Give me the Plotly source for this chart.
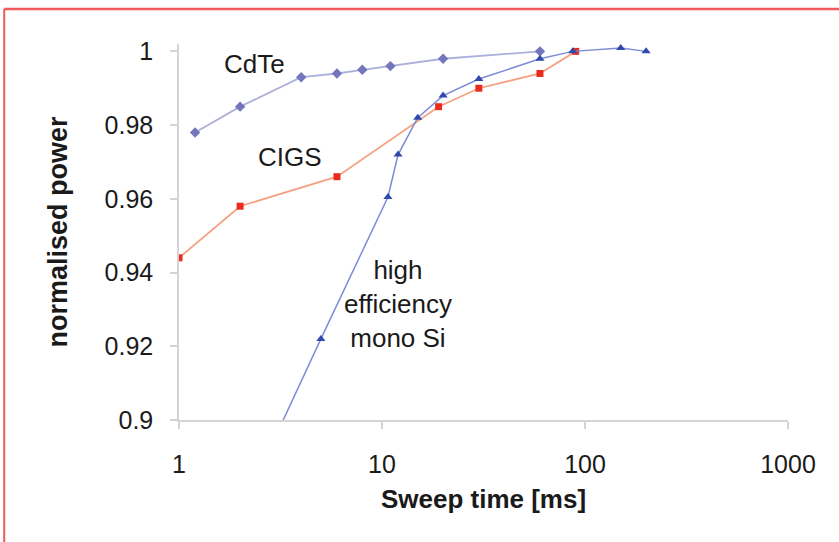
import plotly.graph_objects as go

# Data
cdte_x = [1.2, 2, 4, 6, 8, 11, 20, 60]
cdte_y = [0.978, 0.985, 0.993, 0.994, 0.995, 0.996, 0.998, 1.0]

cigs_x = [1, 2, 6, 19, 30, 60, 90]
cigs_y = [0.944, 0.958, 0.966, 0.985, 0.990, 0.994, 1.0]

mono_x = [3, 5, 10.7, 12, 15, 20, 30, 60, 87, 150, 200]
mono_y = [0.8957, 0.922, 0.9605, 0.972, 0.982, 0.988, 0.9925, 0.998, 1.0, 1.0009, 1.0]

x_tickvals = [1, 10, 100, 1000]
x_ticktext = ["1", "10", "100", "1000"]
y_tickvals = [0.9, 0.92, 0.94, 0.96, 0.98, 1.0]
y_ticktext = ["0.9", "0.92", "0.94", "0.96", "0.98", "1"]

FONT = "Arial, Liberation Sans, sans-serif"
TXT = "#1a1a1a"

fig = go.Figure()
fig.add_trace(go.Scatter(
    x=cdte_x, y=cdte_y, mode="lines+markers", name="CdTe",
    line=dict(color="#aeb0dc", width=1.8),
    marker=dict(symbol="diamond", size=8, color="#7476bd"),
))
fig.add_trace(go.Scatter(
    x=cigs_x, y=cigs_y, mode="lines+markers", name="CIGS",
    line=dict(color="#f5a283", width=1.8),
    marker=dict(symbol="square", size=7, color="#ec2b1f"),
))
fig.add_trace(go.Scatter(
    x=mono_x, y=mono_y, mode="lines+markers", name="high efficiency mono Si",
    line=dict(color="#7d8bd6", width=1.5),
    marker=dict(symbol="triangle-up", size=8, color="#3148ad"),
))

annot_font = dict(family=FONT, size=26, color=TXT)
fig.add_annotation(x=0.374, y=0.9965, xref="x", yref="y", text="CdTe",
                   showarrow=False, font=annot_font)
fig.add_annotation(x=0.547, y=0.9714, xref="x", yref="y", text="CIGS",
                   showarrow=False, font=annot_font)
fig.add_annotation(x=1.079, y=0.9314, xref="x", yref="y",
                   text="high<br>efficiency<br>mono Si",
                   showarrow=False, font=annot_font, align="center")

# red frame (left and top edges)
fig.add_shape(type="line", xref="paper", yref="paper",
              x0=-0.287, x1=-0.287, y0=-1.0, y1=1.093,
              line=dict(color="#f05a5a", width=2))
fig.add_shape(type="line", xref="paper", yref="paper",
              x0=-0.287, x1=1.2, y0=1.093, y1=1.093,
              line=dict(color="#f05a5a", width=2.5))

fig.update_layout(
    width=839, height=542,
    margin=dict(l=179, r=51, t=44, b=122),
    paper_bgcolor="white", plot_bgcolor="white",
    showlegend=False,
    font=dict(family=FONT, color=TXT),
    xaxis=dict(
        type="log", range=[0, 3],
        tickvals=x_tickvals, ticktext=x_ticktext,
        showgrid=False, zeroline=False,
        showline=True, linecolor="#d4d4d4", linewidth=1.5,
        ticks="outside", ticklen=7, tickcolor="#d4d4d4", tickwidth=1.5,
        tickfont=dict(family=FONT, size=25, color=TXT),
        ticklabelstandoff=14,
        title=dict(text="<b>Sweep time [ms]</b>", font=dict(family=FONT, size=26, color=TXT),
                   standoff=13),
    ),
    yaxis=dict(
        range=[0.9, 1.002],
        tickvals=y_tickvals, ticktext=y_ticktext,
        showgrid=False, zeroline=False,
        showline=True, linecolor="#d4d4d4", linewidth=1.5,
        ticks="outside", ticklen=7, tickcolor="#d4d4d4", tickwidth=1.5,
        tickfont=dict(family=FONT, size=25, color=TXT),
        ticklabelstandoff=12,
        title=dict(text="<b>normalised power</b>", font=dict(family=FONT, size=27, color=TXT),
                   standoff=29),
    ),
)

fig.write_html("out.html")
